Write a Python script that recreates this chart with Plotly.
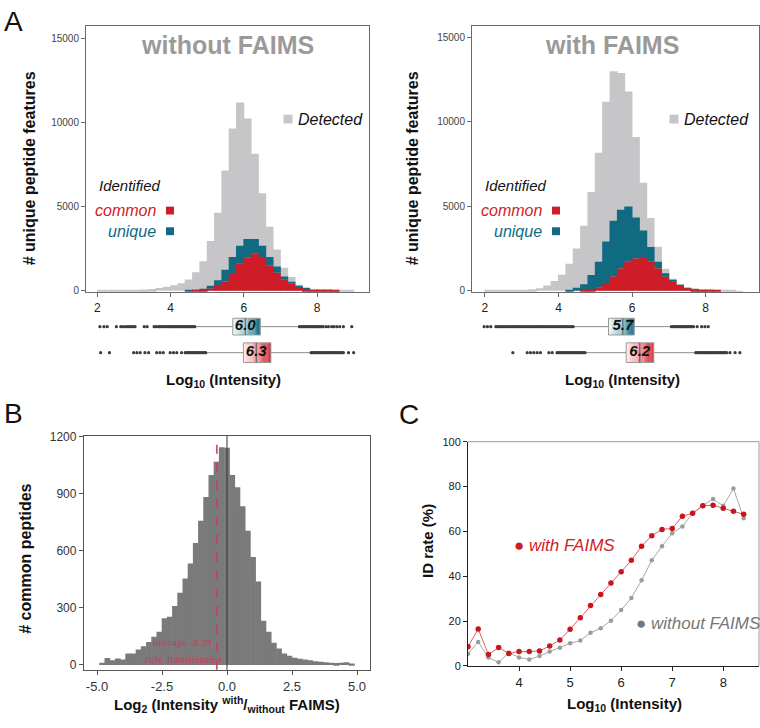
import plotly.graph_objects as go

W, H = 760, 728
def fx(p): return p / W
def fy(p): return 1 - p / H

FONT = "Liberation Sans"
C_DET = "#c6c6c8"
C_TEAL = "#0f6a82"
C_RED = "#cf1d27"
C_BGRAY = "#7a7a7a"

# ---------------- Panel A: intensity histograms ----------------
bin_starts = [2.0, 2.2, 2.4, 2.6, 2.8, 3.0, 3.2, 3.4, 3.6, 3.8, 4.0, 4.2, 4.4, 4.6, 4.8,
              5.0, 5.2, 5.4, 5.6, 5.8, 6.0, 6.2, 6.4, 6.6, 6.8, 7.0, 7.2, 7.4, 7.6, 7.8,
              8.0, 8.2, 8.4, 8.6, 8.8]
bin_width = 0.2

without_detected = [8, 12, 18, 28, 40, 55, 75, 105, 160, 230, 330, 450, 670, 1100, 1750,
                    2960, 4640, 7150, 9650, 11200, 10250, 8150, 5800, 3800, 2450, 1370, 820, 350, 160, 70,
                    30, 15, 8, 5, 3]
without_common = [0, 0, 0, 0, 0, 0, 0, 0, 0, 0, 0, 0, 0, 10, 30,
                  120, 280, 550, 1050, 1600, 1980, 2200, 1950, 1520, 1070, 680, 420, 220, 100, 40,
                  15, 5, 2, 0, 0]
without_unique = [0, 0, 0, 0, 0, 0, 0, 0, 0, 0, 0, 0, 18, 30, 70,
                  170, 340, 700, 950, 1080, 1100, 880, 730, 490, 370, 160, 70, 50, 40, 15,
                  5, 3, 0, 0, 0]

with_detected = [8, 12, 18, 25, 35, 50, 80, 140, 300, 580, 950, 1600, 2500, 3850, 5850,
                 8170, 11200, 13000, 12900, 11800, 9100, 6400, 4300, 2600, 1300, 700, 380, 180, 80, 35,
                 15, 6, 3, 2, 1]
with_common = [0, 0, 0, 0, 0, 0, 0, 0, 0, 0, 0, 0, 0, 30, 100,
               200, 450, 840, 1320, 1710, 1900, 2000, 1750, 1320, 820, 540, 290, 150, 65, 25,
               8, 3, 0, 0, 0]
with_unique = [0, 0, 0, 0, 0, 0, 0, 0, 0, 0, 0, 55, 170, 355, 830,
               1510, 2470, 3300, 3480, 3270, 2435, 1560, 835, 390, 210, 100, 20, 10, 5, 5,
               2, 0, 0, 0, 0]

hist_ticks = [2, 4, 6, 8]
count_ticks = [0, 5000, 10000, 15000]
count_ticktext = ["0", "5000", "10000", "15000"]

# box plot summaries (log10 intensity)
box_rows = ["unique", "common"]
without_q1 = [5.70, 5.99]
without_med = [6.04, 6.34]
without_q3 = [6.45, 6.74]
without_lo = [4.67, 4.97]
without_hi = [7.49, 7.81]
without_labels = ["6.0", "6.3"]
with_q1 = [5.36, 5.84]
with_med = [5.75, 6.21]
with_q3 = [6.06, 6.59]
with_lo = [4.43, 4.75]
with_hi = [7.04, 7.70]
with_labels = ["5.7", "6.2"]

without_unique_outliers = [2.07, 2.18, 2.27, 2.52, 2.64, 2.70, 2.77, 2.83, 2.88, 2.93, 2.98, 3.03,
                           3.28, 3.36, 3.55, 3.60, 3.66, 3.70, 3.75, 3.80, 3.85, 3.90, 3.94, 3.98,
                           4.02, 4.06, 4.10, 4.14, 4.18, 4.22, 4.26, 4.30, 4.34, 4.38, 4.42, 4.46,
                           4.50, 4.54, 4.58, 4.62, 4.66,
                           7.52, 7.56, 7.60, 7.64, 7.68, 7.72, 7.76, 7.80, 7.84, 7.88, 7.92, 7.96,
                           8.00, 8.04, 8.08, 8.12, 8.16, 8.24, 8.31, 8.40, 8.46, 8.54, 8.62, 8.72, 8.95]
without_common_outliers = [2.09, 2.33, 2.99, 3.08, 3.17, 3.30, 3.40, 3.62, 3.71, 3.80, 3.99, 4.08,
                           4.17, 4.30, 4.40, 4.44, 4.48, 4.52, 4.56, 4.60, 4.64, 4.68, 4.72, 4.76,
                           4.80, 4.84, 4.88, 4.92, 4.96,
                           7.84, 7.88, 7.92, 7.96, 8.00, 8.04, 8.08, 8.12, 8.16, 8.20, 8.24, 8.28,
                           8.32, 8.36, 8.40, 8.44, 8.48, 8.52, 8.56, 8.60, 8.64, 8.68, 8.72, 8.86, 9.00]
with_unique_outliers = [1.98, 2.07, 2.16, 2.30, 2.35, 2.40, 2.45, 2.50, 2.55, 2.60, 2.65, 2.70,
                        2.75, 2.80, 2.85, 2.90, 2.95, 3.00, 3.05, 3.10, 3.15, 3.20, 3.25, 3.30,
                        3.35, 3.40, 3.45, 3.50, 3.55, 3.60, 3.65, 3.70, 3.75, 3.80, 3.85, 3.90,
                        3.95, 4.00, 4.05, 4.10, 4.15, 4.20, 4.25, 4.30, 4.35, 4.40,
                        7.07, 7.11, 7.15, 7.19, 7.23, 7.27, 7.31, 7.35, 7.39, 7.43, 7.47, 7.51,
                        7.55, 7.59, 7.63, 7.67, 7.77, 7.89, 7.98, 8.07]
with_common_outliers = [2.76, 3.15, 3.24, 3.33, 3.42, 3.51, 3.74, 3.83, 3.96, 4.00, 4.04, 4.08,
                        4.12, 4.16, 4.20, 4.24, 4.28, 4.32, 4.36, 4.40, 4.44, 4.48, 4.52, 4.56,
                        4.60, 4.64, 4.68, 4.72,
                        7.73, 7.77, 7.81, 7.85, 7.89, 7.93, 7.97, 8.01, 8.05, 8.09, 8.13, 8.17,
                        8.21, 8.25, 8.29, 8.33, 8.37, 8.41, 8.45, 8.49, 8.53, 8.57, 8.66, 8.80, 8.93]

# ---------------- Panel B: log2 ratio histogram ----------------
ratio_centers = [-4.8, -4.6, -4.4, -4.2, -4.0, -3.8, -3.6, -3.4, -3.2, -3.0, -2.8, -2.6, -2.4,
                 -2.2, -2.0, -1.8, -1.6, -1.4, -1.2, -1.0, -0.8, -0.6, -0.4, -0.2, 0.0,
                 0.2, 0.4, 0.6, 0.8, 1.0, 1.2, 1.4, 1.6, 1.8, 2.0, 2.2, 2.4, 2.6, 2.8,
                 3.0, 3.2, 3.4, 3.6, 3.8, 4.0, 4.2, 4.4, 4.6, 4.8]
ratio_counts = [12, 36, 24, 34, 29, 60, 60, 81, 98, 120, 148, 175, 246,
                253, 310, 379, 455, 534, 641, 758, 883, 999, 1068, 1145, 1142,
                999, 935, 835, 706, 568, 439, 232, 175, 117, 86, 60, 48, 38, 32,
                28, 24, 20, 17, 14, 12, 10, 11, 14, 8]
ratio_width = 0.2
ratio_mean = -0.39
ratio_ticks = [-5.0, -2.5, 0.0, 2.5, 5.0]
ratio_ticktext = ["-5.0", "-2.5", "0.0", "2.5", "5.0"]
common_ticks = [0, 300, 600, 900, 1200]

# ---------------- Panel C: ID rate ----------------
idrate_x = [3.0, 3.2, 3.4, 3.6, 3.8, 4.0, 4.2, 4.4, 4.6, 4.8, 5.0, 5.2, 5.4, 5.6,
            5.8, 6.0, 6.2, 6.4, 6.6, 6.8, 7.0, 7.2, 7.4, 7.6, 7.8, 8.0, 8.2, 8.4]
idrate_with = [8.6, 16.5, 5.1, 8.2, 5.6, 6.4, 6.4, 6.7, 8.9, 11.6, 16.4, 21.5, 26.9, 31.9,
               37.0, 42.0, 47.1, 53.4, 58.1, 60.9, 61.3, 66.8, 68.1, 71.4, 71.7, 70.3, 69.0, 67.6]
idrate_without = [5.4, 10.7, 3.8, 1.6, 5.9, 3.8, 2.9, 4.4, 6.4, 8.1, 10.1, 11.3, 14.8, 16.8,
                  20.2, 24.9, 30.3, 38.2, 47.1, 53.4, 59.2, 62.2, 68.1, 71.6, 74.4, 71.4, 79.1, 65.9]
idrate_xticks = [4, 5, 6, 7, 8]
idrate_yticks = [0, 20, 40, 60, 80, 100]

# ================= figure =================
fig = go.Figure()
SEAM = 1.12  # slight overdraw so adjacent histogram bars leave no hairline gaps

def add_hist(xa, ya, detected, common, unique):
    centers = [b + bin_width / 2 for b in bin_starts]
    w = bin_width * SEAM
    fig.add_trace(go.Bar(x=centers, y=detected, width=w, xaxis=xa, yaxis=ya,
                         marker=dict(color=C_DET, line=dict(width=0))))
    fig.add_trace(go.Bar(x=centers, y=unique, base=common, width=w, xaxis=xa, yaxis=ya,
                         marker=dict(color=C_TEAL, line=dict(width=0))))
    fig.add_trace(go.Bar(x=centers, y=common, width=w, xaxis=xa, yaxis=ya,
                         marker=dict(color=C_RED, line=dict(width=0))))

add_hist("x", "y", without_detected, without_common, without_unique)
add_hist("x2", "y2", with_detected, with_common, with_unique)

row_y = [44, 17.5]
row_half = [8.5, 10]
grad_stops = [
    [(244, 249, 251), (150, 196, 208), (12, 106, 129)],
    [(253, 240, 240), (240, 150, 152), (207, 29, 39)],
]
N_STRIPS = 24

def grad_color(stops, t):
    if t <= 0.5:
        a, b, u = stops[0], stops[1], t / 0.5
    else:
        a, b, u = stops[1], stops[2], (t - 0.5) / 0.5
    c = [round(a[k] + (b[k] - a[k]) * u) for k in range(3)]
    return "rgb(%d,%d,%d)" % tuple(c)

def add_boxes(xa, ya, q1s, meds, q3s, los, his, labels, outliers):
    for i in range(2):
        yc, hh = row_y[i], row_half[i]
        fig.add_trace(go.Scatter(x=[los[i], q1s[i], None, q3s[i], his[i]],
                                 y=[yc, yc, None, yc, yc], mode="lines",
                                 line=dict(color="#8c8c8c", width=1), xaxis=xa, yaxis=ya))
        fig.add_trace(go.Scatter(x=outliers[i], y=[yc] * len(outliers[i]), mode="markers",
                                 marker=dict(size=3.2, color="#3c3c3c", line=dict(width=0)),
                                 xaxis=xa, yaxis=ya))
        span = q3s[i] - q1s[i]
        for k in range(N_STRIPS):
            a = q1s[i] + span * k / N_STRIPS
            b = q1s[i] + span * (k + 1.15) / N_STRIPS if k < N_STRIPS - 1 else q3s[i]
            col = grad_color(grad_stops[i], (k + 0.5) / N_STRIPS)
            fig.add_trace(go.Scatter(x=[a, b, b, a, a], y=[yc - hh, yc - hh, yc + hh, yc + hh, yc - hh],
                                     mode="lines", fill="toself", fillcolor=col,
                                     line=dict(width=0, color=col), hoverinfo="skip",
                                     xaxis=xa, yaxis=ya))
        fig.add_trace(go.Scatter(x=[q1s[i], q3s[i], q3s[i], q1s[i], q1s[i]],
                                 y=[yc - hh, yc - hh, yc + hh, yc + hh, yc - hh],
                                 mode="lines", line=dict(color="#9a9a9a", width=1),
                                 xaxis=xa, yaxis=ya))
        fig.add_trace(go.Scatter(x=[meds[i], meds[i]], y=[yc - hh, yc + hh], mode="lines",
                                 line=dict(color="#555555", width=1), xaxis=xa, yaxis=ya))
        fig.add_trace(go.Scatter(x=[meds[i]], y=[yc], mode="text",
                                 text=["<b><i>%s</i></b>" % labels[i]],
                                 textfont=dict(family=FONT, size=15, color="#111111"),
                                 xaxis=xa, yaxis=ya))

add_boxes("x3", "y3", without_q1, without_med, without_q3, without_lo, without_hi, without_labels,
          [without_unique_outliers, without_common_outliers])
add_boxes("x4", "y4", with_q1, with_med, with_q3, with_lo, with_hi, with_labels,
          [with_unique_outliers, with_common_outliers])

# Panel B
fig.add_trace(go.Bar(x=ratio_centers, y=ratio_counts, width=ratio_width * SEAM, xaxis="x5", yaxis="y5",
                     marker=dict(color=C_BGRAY, line=dict(width=0))))

# Panel C
fig.add_trace(go.Scatter(x=idrate_x, y=idrate_without, mode="lines+markers", xaxis="x6", yaxis="y6",
                         line=dict(color="#a8a8a8", width=1),
                         marker=dict(size=4.5, color="#9c9c9c")))
fig.add_trace(go.Scatter(x=idrate_x, y=idrate_with, mode="lines+markers", xaxis="x6", yaxis="y6",
                         line=dict(color="#e06068", width=1),
                         marker=dict(size=5.5, color="#c8161f")))

tickfont_a = dict(family=FONT, size=10, color="#444444")
frame = dict(showline=True, mirror=True, linecolor="#6a6a6a", linewidth=1,
             ticks="outside", ticklen=4, tickcolor="#6a6a6a", showgrid=False, zeroline=False)

layout = dict(
    width=W, height=H, autosize=False, showlegend=False, barmode="overlay",
    margin=dict(l=0, r=0, t=0, b=0), paper_bgcolor="white", plot_bgcolor="white",
    font=dict(family=FONT),
    xaxis=dict(domain=[fx(86), fx(369)], range=[1.69, 9.42], anchor="y", tickvals=hist_ticks,
               tickfont=dict(family=FONT, size=12, color="#222222"), **frame),
    yaxis=dict(domain=[fy(291), fy(20)], range=[-90, 15780], anchor="x", tickvals=count_ticks,
               ticktext=count_ticktext, tickfont=tickfont_a, **frame),
    xaxis2=dict(domain=[fx(472), fx(759)], range=[1.65, 9.45], anchor="y2", tickvals=hist_ticks,
                tickfont=dict(family=FONT, size=12, color="#222222"), **frame),
    yaxis2=dict(domain=[fy(291), fy(20)], range=[-90, 15700], anchor="x2", tickvals=count_ticks,
                ticktext=count_ticktext, tickfont=tickfont_a, **frame),
    xaxis3=dict(domain=[fx(86), fx(369)], range=[1.69, 9.42], anchor="y3", visible=False),
    yaxis3=dict(domain=[fy(370), fy(310)], range=[0, 60], anchor="x3", visible=False),
    xaxis4=dict(domain=[fx(472), fx(759)], range=[1.65, 9.45], anchor="y4", visible=False),
    yaxis4=dict(domain=[fy(370), fy(310)], range=[0, 60], anchor="x4", visible=False),
    xaxis5=dict(domain=[fx(84), fx(370)], range=[-5.5, 5.5], anchor="y5", tickvals=ratio_ticks,
                ticktext=ratio_ticktext, tickfont=dict(family=FONT, size=13, color="#333333"),
                showline=True, mirror=True, linecolor="#555555", linewidth=1.3,
                ticks="outside", ticklen=4, tickcolor="#555555", showgrid=False, zeroline=False),
    yaxis5=dict(domain=[fy(675), fy(437)], range=[-26, 1205], anchor="x5", tickvals=common_ticks,
                tickfont=dict(family=FONT, size=12, color="#333333"),
                showline=True, mirror=True, linecolor="#555555", linewidth=1.3,
                ticks="outside", ticklen=4, tickcolor="#555555", showgrid=False, zeroline=False),
    xaxis6=dict(domain=[fx(468), fx(759)], range=[3.0, 8.7], anchor="y6", tickvals=idrate_xticks,
                tickfont=dict(family=FONT, size=13, color="#222222"),
                showline=True, linecolor="#222222", linewidth=1, ticks="outside", ticklen=4,
                tickcolor="#222222", showgrid=False, zeroline=False),
    yaxis6=dict(domain=[fy(671), fy(443)], range=[0, 100], anchor="x6", tickvals=idrate_yticks,
                tickfont=dict(family=FONT, size=11, color="#222222"),
                showline=True, linecolor="#222222", linewidth=1, ticks="outside", ticklen=4,
                tickcolor="#222222", showgrid=False, zeroline=False),
)
fig.update_layout(**layout)

fig.add_shape(type="line", xref="x5", yref="y5 domain", x0=0, x1=0, y0=0, y1=1,
              line=dict(color="#333333", width=1))
fig.add_shape(type="line", xref="x5", yref="y5 domain", x0=ratio_mean, x1=ratio_mean, y0=0, y1=1,
              line=dict(color="#cc3a5c", width=1.5, dash="dash"))
fig.add_shape(type="line", xref="x6 domain", yref="y6 domain", x0=0, x1=1, y0=1, y1=1,
              line=dict(color="#9a9a9a", width=1))
fig.add_shape(type="line", xref="x6 domain", yref="y6 domain", x0=1, x1=1, y0=0, y1=1,
              line=dict(color="#9a9a9a", width=1))

def ann(text, x, y, size, color="#111111", bold=False, italic=False, xanchor="center",
        textangle=0):
    fig.add_annotation(text=text, x=fx(x), y=fy(y), xref="paper", yref="paper",
                       showarrow=False, xanchor=xanchor, yanchor="middle", textangle=textangle,
                       font=dict(family=FONT, size=size, color=color,
                                 weight="bold" if bold else "normal",
                                 style="italic" if italic else "normal"))

def square(x, y, color, s=8):
    fig.add_shape(type="rect", xref="paper", yref="paper", x0=fx(x - s / 2), x1=fx(x + s / 2),
                  y0=fy(y + s / 2), y1=fy(y - s / 2), fillcolor=color, line=dict(width=0))

ann("A", 13, 16, 28)
ann("B", 14, 414, 28)
ann("C", 409, 415, 28)

ann("without FAIMS", 227, 40, 25, color="#9a9a9a", bold=True)
ann("with FAIMS", 612, 40, 25, color="#9a9a9a", bold=True)
for xoff in (0, 386):
    square(288 + xoff, 115, C_DET, 9)
    ann("Detected", 296 + xoff, 115, 16, color="#111111", italic=True, xanchor="left")
    ann("Identified", 97 + xoff, 183, 15, color="#111111", italic=True, xanchor="left")
    ann("common", 158 + xoff, 208, 16, color=C_RED, italic=True, xanchor="right")
    square(170 + xoff, 208, C_RED, 8)
    ann("unique", 158 + xoff, 229, 16, color=C_TEAL, italic=True, xanchor="right")
    square(170 + xoff, 229, C_TEAL, 8)
ann("# unique peptide features", 29, 165, 16, bold=True, textangle=-90)
ann("# unique peptide features", 412, 165, 16, bold=True, textangle=-90)
ann("Log<sub>10</sub> (Intensity)", 223, 381, 15, bold=True)
ann("Log<sub>10</sub> (Intensity)", 622, 381, 15, bold=True)

ann("average -0.39", 182, 647, 9.5, color="#cc3a5c", italic=True)
ann("76% Transmission", 182, 664, 9.5, color="#cc3a5c", italic=True)
ann("# common peptides", 26, 562, 16, bold=True, textangle=-90)
ann("Log<sub>2</sub> (Intensity <sup>with</sup>/<sub>without</sub> FAIMS)", 227, 710, 15, bold=True)

ann("● with FAIMS", 512, 549, 17, color=C_RED, italic=True, xanchor="left")
ann("● without FAIMS", 634, 628, 17, color="#777777", italic=True, xanchor="left")
ann("ID rate (%)", 427, 544, 15, bold=True, textangle=-90)
ann("Log<sub>10</sub> (Intensity)", 624, 710, 15, bold=True)

fig.write_html("out.html", config={"displayModeBar": False},
               post_script="document.body.style.margin='0';")
